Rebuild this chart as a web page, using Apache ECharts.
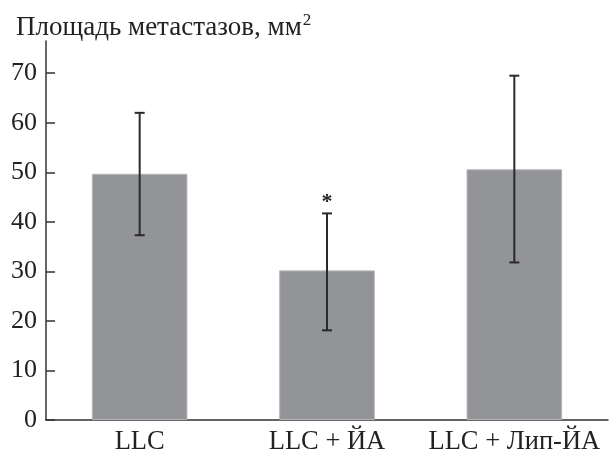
<!DOCTYPE html>
<html>
<head>
<meta charset="utf-8">
<script src="https://cdn.jsdelivr.net/npm/echarts@6/dist/echarts.min.js"></script>
<style>html,body{margin:0;padding:0;background:#fff;}#c{width:610px;height:456px;}</style>
</head>
<body>
<div id="c"></div>
<script>
const categories = ['LLC', 'LLC + ЙА', 'LLC + Лип-ЙА'];
const meanValues = [49.7, 30.2, 50.6];
const errorLow = [37.3, 18.1, 31.8];
const errorHigh = [62.0, 41.7, 69.5];
const significance = ['', '*', ''];
const yTicks = [0, 10, 20, 30, 40, 50, 60, 70];

const FONT = 'Liberation Serif';
const errData = categories.map((c, i) => [i, errorLow[i], errorHigh[i], significance[i]]);

const chart = echarts.init(document.getElementById('c'));
chart.setOption({
  animation: false,
  backgroundColor: '#fff',
  title: {
    text: '{a|Площадь метастазов, мм}{s|2}',
    left: 11,
    top: 7,
    textStyle: {
      fontWeight: 'normal',
      rich: {
        a: { fontFamily: FONT, fontSize: 27, fontWeight: 'normal', color: '#222', lineHeight: 31 },
        s: { fontFamily: FONT, fontSize: 17, fontWeight: 'normal', color: '#222', verticalAlign: 'top', lineHeight: 31, padding: [0, 0, 12, 1] }
      }
    }
  },
  grid: { left: 46, right: 2, top: 41, bottom: 35 },
  xAxis: {
    type: 'category',
    data: categories,
    axisLine: { lineStyle: { color: '#333', width: 1.5 } },
    axisTick: { inside: true, length: 9, lineStyle: { color: '#333', width: 1.5 } },
    axisLabel: { fontFamily: FONT, fontSize: 26.5, color: '#222', margin: 9, interval: 0, hideOverlap: false }
  },
  yAxis: {
    type: 'value',
    min: 0,
    max: 76.5,
    splitLine: { show: false },
    axisLine: { show: true, lineStyle: { color: '#333', width: 1.5 } },
    axisTick: { show: true, inside: true, length: 9, customValues: yTicks, lineStyle: { color: '#333', width: 1.5 } },
    axisLabel: { fontFamily: FONT, fontSize: 26, color: '#222', margin: 9, customValues: yTicks }
  },
  series: [
    {
      type: 'bar',
      data: meanValues,
      barWidth: '51%',
      itemStyle: { color: '#939497', borderColor: '#b3b4b6', borderWidth: 1 },
      z: 2
    },
    {
      type: 'custom',
      data: errData,
      z: 5,
      renderItem: function (params, api) {
        const x = api.value(0);
        const lo = api.coord([x, api.value(1)]);
        const hi = api.coord([x, api.value(2)]);
        const cap = 5;
        const style = { stroke: '#2a2a2a', lineWidth: 2 };
        const children = [
          { type: 'line', shape: { x1: hi[0], y1: hi[1], x2: lo[0], y2: lo[1] }, style: style },
          { type: 'line', shape: { x1: hi[0] - cap, y1: hi[1], x2: hi[0] + cap, y2: hi[1] }, style: style },
          { type: 'line', shape: { x1: lo[0] - cap, y1: lo[1], x2: lo[0] + cap, y2: lo[1] }, style: style }
        ];
        const sig = significance[params.dataIndex];
        if (sig) {
          children.push({
            type: 'text',
            style: { text: sig, x: hi[0], y: hi[1] - 11, fill: '#222', font: 'bold 22px ' + FONT, align: 'center', verticalAlign: 'middle' }
          });
        }
        return { type: 'group', children: children };
      }
    }
  ]
});
</script>
</body>
</html>
